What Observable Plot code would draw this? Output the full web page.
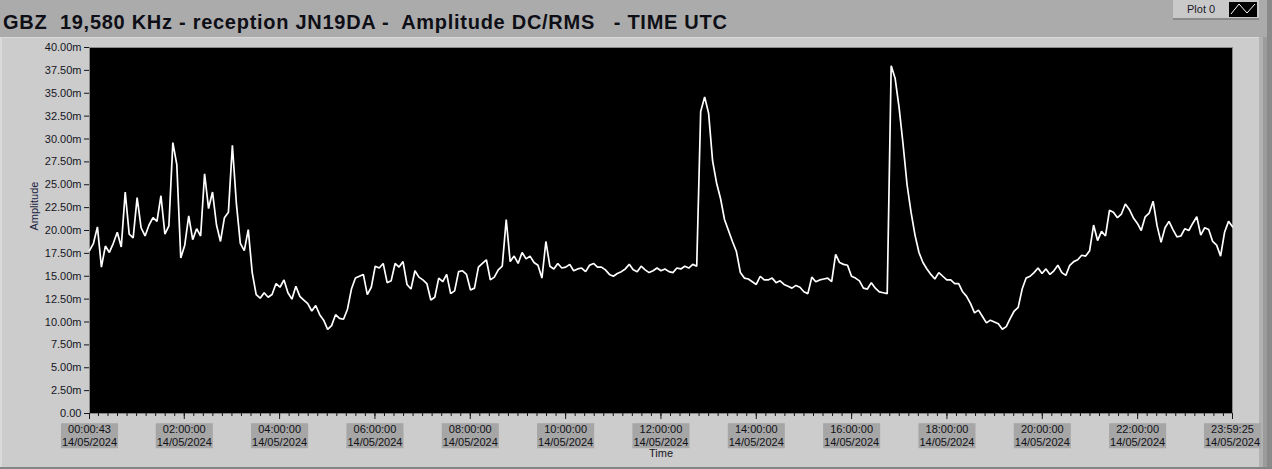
<!DOCTYPE html>
<html>
<head>
<meta charset="utf-8">
<script src="https://cdn.jsdelivr.net/npm/d3@7"></script>
<script src="https://cdn.jsdelivr.net/npm/@observablehq/plot@0.6"></script>
<style>
  html, body { margin: 0; padding: 0; width: 1272px; height: 469px; overflow: hidden; background: #ababab; }
  #page { position: relative; width: 1272px; height: 469px; font-family: "Liberation Sans", Arial, sans-serif; }
  #panel { position: absolute; left: 0; top: 37px; width: 1259px; height: 430px; background: #cccccc; border-top: 1px solid #d9d9d9; box-sizing: border-box; border-left: 2px solid #dadada; }
  #rightbar { position: absolute; left: 1259px; top: 37px; width: 13px; height: 432px; background: #9b9b9b; border-left: 4px solid #b2b2b2; box-sizing: border-box; }
  #rightbar2 { position: absolute; left: 1267px; top: 0; width: 5px; height: 469px; background: #8a8a8a; }
  #bottombar { position: absolute; left: 0; top: 467px; width: 1272px; height: 2px; background: #858585; }
  #title { position: absolute; left: 3px; top: 10px; font: bold 20px "Liberation Sans", Arial, sans-serif; letter-spacing: 0.72px; white-space: pre; color: #0e0e16; line-height: 24px; }
  #legend { position: absolute; left: 1173px; top: 0; width: 86px; height: 20px; background: #c9c9c9; border-bottom: 2px solid #8a8a8a; box-sizing: border-box; }
  #legend span { position: absolute; left: 14px; top: 3px; font: 11px "Liberation Sans", Arial, sans-serif; color: #1a1a2a; }
  #legend svg { position: absolute; left: 56px; top: 2px; }
  #chart { position: absolute; left: 0; top: 0; }
</style>
</head>
<body>
<div id="page">
  <div id="panel"></div>
  <div id="rightbar"></div>
  <div id="rightbar2"></div>
  <div id="bottombar"></div>
  <div id="title">GBZ  19,580 KHz - reception JN19DA -  Amplitude DC/RMS   - TIME UTC</div>
  <div id="legend"><span>Plot 0</span>
    <svg width="28" height="15"><rect width="28" height="15" fill="#000"/><polyline points="2,12 10,2 18,11 26,2" fill="none" stroke="#fff" stroke-width="1"/></svg>
  </div>
  <div id="chart"></div>
</div>
<script>
// ---- data ----
const startTime = "2024-05-14T00:00:43Z";
const endTime = "2024-05-14T23:59:25Z";

// Amplitude (milli-units) sampled evenly from startTime to endTime
const amplitude = [
  17.8, 18.6, 20.4, 16.0, 18.3, 17.6, 18.6, 19.8, 18.2, 24.2,
  19.6, 19.2, 23.6, 20.3, 19.4, 20.6, 21.4, 21.0, 23.8, 19.6,
  20.5, 29.6, 27.2, 17.0, 18.4, 21.6, 19.0, 20.2, 19.4, 26.2,
  22.4, 24.2, 20.6, 18.8, 21.4, 22.0, 29.3, 23.0, 18.6, 17.8,
  20.1, 15.4, 13.0, 12.6, 13.2, 12.7, 13.0, 14.2, 13.8, 14.6,
  13.2, 12.5, 13.9, 12.8, 12.4, 12.0, 11.2, 11.8, 10.8, 10.2,
  9.2, 9.6, 10.8, 10.4, 10.3, 11.4, 13.6, 14.8, 15.0, 15.2,
  13.0, 13.8, 16.1, 15.9, 16.4, 14.3, 14.5, 16.4, 16.0, 16.6,
  14.1, 13.6, 15.6, 14.9, 14.6, 14.2, 12.4, 12.7, 14.8, 14.4,
  15.2, 13.1, 13.4, 15.5, 15.6, 15.2, 13.5, 13.7, 16.0, 16.4,
  16.8, 14.6, 14.9, 15.7, 16.1, 21.2, 16.6, 17.2, 16.4, 17.6,
  16.9, 17.2, 16.5, 16.2, 14.8, 18.8, 16.1, 15.8, 16.4, 15.9,
  16.0, 16.3, 15.6, 15.8, 15.9, 15.5, 16.2, 16.4, 16.0, 16.0,
  15.7, 15.2, 15.0, 15.3, 15.5, 15.8, 16.3, 15.7, 15.5, 16.1,
  15.7, 15.4, 15.6, 15.9, 15.6, 15.8, 15.5, 15.4, 15.9, 15.8,
  16.1, 15.9, 16.3, 16.1, 33.0, 34.6, 32.8, 27.6, 25.2, 23.5,
  21.2, 20.0, 18.8, 17.7, 15.4, 14.8, 14.7, 14.4, 14.1, 15.0,
  14.6, 14.6, 14.8, 14.3, 14.5, 14.1, 13.9, 13.7, 14.0, 13.8,
  13.3, 13.1, 14.9, 14.4, 14.6, 14.7, 14.8, 14.4, 17.4, 16.5,
  16.3, 16.2, 15.0, 14.8, 14.5, 13.7, 13.6, 14.3, 13.7, 13.3,
  13.2, 13.1, 38.0, 36.6, 33.4, 29.4, 25.0, 22.0, 19.5, 17.6,
  16.5, 15.8, 15.2, 14.7, 15.4, 15.0, 14.6, 14.6, 14.2, 14.2,
  13.3, 12.8, 12.0, 11.0, 11.3, 10.6, 9.9, 10.2, 10.0, 9.8,
  9.2, 9.5, 10.4, 11.2, 11.6, 13.6, 14.8, 15.0, 15.4, 15.9,
  15.3, 15.8, 15.2, 15.6, 16.2, 15.4, 15.1, 16.2, 16.6, 16.8,
  17.3, 17.2, 17.8, 20.6, 18.9, 19.9, 19.4, 22.2, 22.0, 21.4,
  21.8, 22.9, 22.3, 21.4, 20.8, 20.0, 21.5, 21.9, 23.2, 20.5,
  18.7, 20.3, 21.0, 20.1, 19.3, 19.4, 20.2, 20.0, 20.8, 21.5,
  19.5, 20.3, 20.1, 18.8, 18.4, 17.2, 19.8, 21.0, 20.4
];

const yTicks = [0, 2.5, 5, 7.5, 10, 12.5, 15, 17.5, 20, 22.5, 25, 27.5, 30, 32.5, 35, 37.5, 40];

const xTickTimes = [
  "2024-05-14T00:00:43Z", "2024-05-14T02:00:00Z", "2024-05-14T04:00:00Z",
  "2024-05-14T06:00:00Z", "2024-05-14T08:00:00Z", "2024-05-14T10:00:00Z",
  "2024-05-14T12:00:00Z", "2024-05-14T14:00:00Z", "2024-05-14T16:00:00Z",
  "2024-05-14T18:00:00Z", "2024-05-14T20:00:00Z", "2024-05-14T22:00:00Z",
  "2024-05-14T23:59:25Z"
];
const xTickTimeLabels = ["00:00:43", "02:00:00", "04:00:00", "06:00:00", "08:00:00", "10:00:00",
  "12:00:00", "14:00:00", "16:00:00", "18:00:00", "20:00:00", "22:00:00", "23:59:25"];
const xTickDate = "14/05/2024";

// ---- build ----
const t0 = new Date(startTime), t1 = new Date(endTime);
const n = amplitude.length;
const dt = (t1 - t0) / (n - 1);
const series = amplitude.map((v, i) => ({ t: new Date(+t0 + i * dt), v }));

const majorTicks = xTickTimes.map((s, i) => ({ t: new Date(s), label: xTickTimeLabels[i] + "\n" + xTickDate }));
const minorTicks = d3.utcMinute.every(12).range(t0, t1);

const fmtY = v => v === 0 ? "0.00" : v.toFixed(2) + "m";
const LABEL_FILL = "#121218";

const chart = Plot.plot({
  width: 1272,
  height: 469,
  marginLeft: 89,
  marginRight: 40,
  marginTop: 47,
  marginBottom: 56,
  style: { background: "transparent", fontFamily: "Liberation Sans, Arial, sans-serif", fontSize: "11px", color: "#15151f" },
  x: { type: "utc", domain: [t0, t1] },
  y: { domain: [0, 40] },
  marks: [
    Plot.frame({ fill: "#000", stroke: "#8a8a8a" }),
    Plot.line(series, { x: "t", y: "v", stroke: "#fff", strokeWidth: 1.7, strokeLinejoin: "miter" }),
    Plot.axisY(yTicks, { tickFormat: fmtY, tickSize: 5, tickPadding: 3, label: null, fontSize: 11 }),
    Plot.axisX(minorTicks, { tickSize: 3, tickFormat: () => "", label: null }),
    Plot.axisX(majorTicks.map(d => d.t), { tickSize: 6, tickFormat: () => "", label: null }),
    Plot.text(majorTicks, { x: "t", text: "label", frameAnchor: "bottom", dy: 22, lineHeight: 1.2, lineAnchor: "middle", fontSize: 11, fill: LABEL_FILL }),
    Plot.text(["Time"], { frameAnchor: "bottom", dy: 43, fontSize: 11 }),
    Plot.text(["Amplitude"], { frameAnchor: "left", dx: -55, rotate: -90, fontSize: 11, fill: "#1a1d40" })
  ]
});

document.getElementById("chart").append(chart);

// gray boxes behind the time tick labels
const NS = "http://www.w3.org/2000/svg";
chart.querySelectorAll(`g[fill="${LABEL_FILL}"] text`).forEach(t => {
  const b = t.getBBox();
  const w = Math.max(b.width + 2, 56);
  const h = 25;
  const r = document.createElementNS(NS, "rect");
  r.setAttribute("x", b.x + b.width / 2 - w / 2);
  r.setAttribute("y", b.y + b.height / 2 - h / 2);
  r.setAttribute("width", w);
  r.setAttribute("height", h);
  r.setAttribute("fill", "#a6a6a6");
  const tr = t.getAttribute("transform");
  if (tr) r.setAttribute("transform", tr);
  t.parentNode.insertBefore(r, t);
});
</script>
</body>
</html>
